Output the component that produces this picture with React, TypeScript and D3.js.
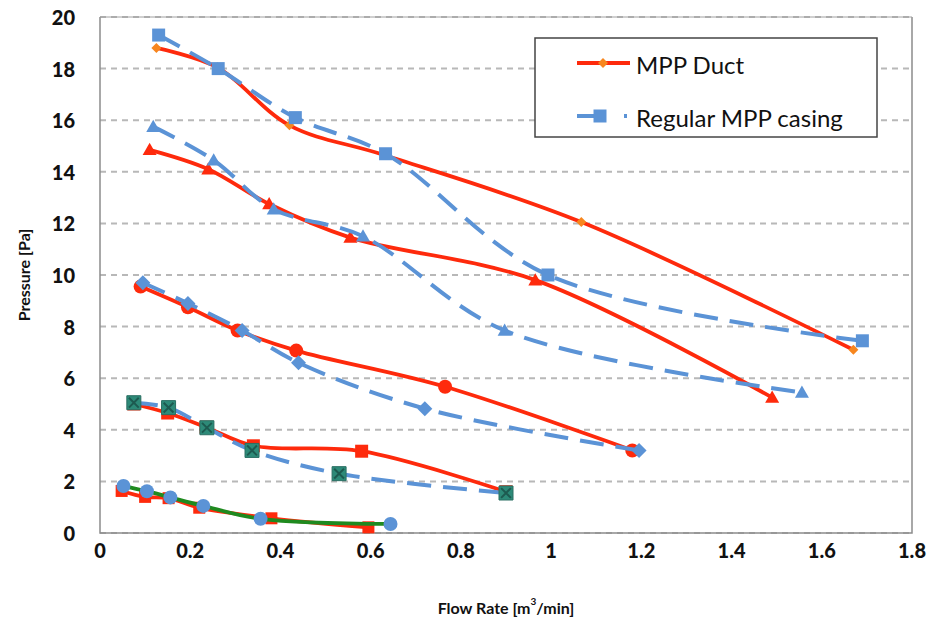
import React from "react";
import * as d3 from "d3";

// Flow rate [m³/min], pressure [Pa] pairs for each test condition
const ductA: [number, number][] = [[0.125, 18.8], [0.26, 18.05], [0.42, 15.8], [0.63, 14.65], [1.067, 12.05], [1.67, 7.1]];
const casingA: [number, number][] = [[0.13, 19.3], [0.262, 18.0], [0.433, 16.1], [0.633, 14.7], [0.993, 10.0], [1.69, 7.45]];

const ductB: [number, number][] = [[0.11, 14.85], [0.24, 14.1], [0.375, 12.75], [0.555, 11.45], [0.965, 9.8], [1.49, 5.25]];
const casingB: [number, number][] = [[0.118, 15.75], [0.252, 14.45], [0.385, 12.55], [0.583, 11.5], [0.897, 7.85], [1.556, 5.45]];

const ductC: [number, number][] = [[0.09, 9.55], [0.195, 8.75], [0.305, 7.85], [0.435, 7.07], [0.765, 5.67], [1.18, 3.2]];
const casingC: [number, number][] = [[0.095, 9.7], [0.195, 8.9], [0.315, 7.85], [0.44, 6.6], [0.72, 4.82], [1.195, 3.2]];

const ductD: [number, number][] = [[0.075, 5.0], [0.15, 4.65], [0.235, 4.1], [0.34, 3.38], [0.58, 3.17], [0.9, 1.6]];
const casingD: [number, number][] = [[0.075, 5.05], [0.152, 4.86], [0.237, 4.08], [0.337, 3.2], [0.53, 2.3], [0.9, 1.55]];

const ductE: [number, number][] = [[0.048, 1.63], [0.1, 1.4], [0.152, 1.35], [0.22, 0.98], [0.38, 0.57], [0.595, 0.22]];
const casingE: [number, number][] = [[0.052, 1.82], [0.104, 1.62], [0.156, 1.38], [0.229, 1.05], [0.356, 0.55], [0.644, 0.35]];

const xTicks = [0, 0.2, 0.4, 0.6, 0.8, 1, 1.2, 1.4, 1.6, 1.8];
const yTicks = [0, 2, 4, 6, 8, 10, 12, 14, 16, 18, 20];
const legendLabels = ["MPP Duct", "Regular MPP casing"];
const xTitle = "Flow Rate [m";
const yTitle = "Pressure [Pa]";

const W = 934;
const H = 622;
const plot = { left: 100, right: 912, top: 17, bottom: 533 };

const RED = "#fe2a0c";
const ORANGE = "#f7861e";
const BLUE = "#5b93d6";
const TEAL = "#2d8a78";
const GREEN = "#1f8a1f";
const DASH = "24,12";

type Marker = "diamond" | "square" | "triangle" | "circle" | "xbox";

interface Series {
  data: [number, number][];
  stroke: string;
  dash?: string;
  marker: Marker;
  fill: string;
  size: number;
}

const series: Series[] = [
  { data: ductA, stroke: RED, marker: "diamond", fill: ORANGE, size: 5 },
  { data: casingA, stroke: BLUE, dash: DASH, marker: "square", fill: BLUE, size: 6.5 },
  { data: ductB, stroke: RED, marker: "triangle", fill: RED, size: 7 },
  { data: casingB, stroke: BLUE, dash: DASH, marker: "triangle", fill: BLUE, size: 7 },
  { data: ductC, stroke: RED, marker: "circle", fill: RED, size: 7 },
  { data: casingC, stroke: BLUE, dash: DASH, marker: "diamond", fill: BLUE, size: 7.5 },
  { data: ductD, stroke: RED, marker: "square", fill: RED, size: 6.5 },
  { data: casingD, stroke: BLUE, dash: DASH, marker: "xbox", fill: TEAL, size: 7 },
  { data: ductE, stroke: RED, marker: "square", fill: RED, size: 6 },
  { data: casingE, stroke: GREEN, marker: "circle", fill: BLUE, size: 7 },
];

function markerPath(m: Marker, r: number): string {
  switch (m) {
    case "diamond":
      return `M0,${-r}L${r},0L0,${r}L${-r},0Z`;
    case "square":
    case "xbox":
      return `M${-r},${-r}H${r}V${r}H${-r}Z`;
    case "triangle":
      return `M0,${-r}L${r},${r * 0.75}L${-r},${r * 0.75}Z`;
    case "circle":
    default:
      return `M${r},0A${r},${r} 0 1,1 ${-r},0A${r},${r} 0 1,1 ${r},0Z`;
  }
}

function MarkerShape({ m, r, fill, x, y }: { m: Marker; r: number; fill: string; x: number; y: number }) {
  return (
    <g transform={`translate(${x},${y})`}>
      <path d={markerPath(m, r)} fill={fill} stroke={m === "xbox" ? "#2a6f63" : "none"} strokeWidth={1} />
      {m === "xbox" && (
        <path
          d={`M${-r * 0.7},${-r * 0.7}L${r * 0.7},${r * 0.7}M${r * 0.7},${-r * 0.7}L${-r * 0.7},${r * 0.7}`}
          stroke="#1d5a50"
          strokeWidth={2}
        />
      )}
    </g>
  );
}

export default function App() {
  const x = d3.scaleLinear().domain([0, 1.8]).range([plot.left, plot.right]);
  const y = d3.scaleLinear().domain([0, 20]).range([plot.bottom, plot.top]);
  const line = d3
    .line<[number, number]>()
    .x((d) => x(d[0]))
    .y((d) => y(d[1]))
    .curve(d3.curveCatmullRom.alpha(0.5));

  const font = "Lato, 'Open Sans', sans-serif";

  return (
    <svg width={W} height={H} style={{ position: "absolute", left: 0, top: 0, background: "#fff" }}>
      <rect width={W} height={H} fill="#fff" />
      {/* horizontal grid */}
      {yTicks.map((t) => (
        <line
          key={`g${t}`}
          x1={plot.left}
          x2={plot.right}
          y1={y(t)}
          y2={y(t)}
          stroke="#b8b8b8"
          strokeWidth={2}
          strokeDasharray="6,5"
        />
      ))}
      {/* plot frame */}
      <path
        d={`M${plot.left},${plot.top}V${plot.bottom}H${plot.right}V${plot.top}`}
        fill="none"
        stroke="#8c8c8c"
        strokeWidth={1.5}
      />
      <line x1={plot.left} x2={plot.right} y1={plot.top} y2={plot.top} stroke="#a0a0a0" strokeWidth={1} />

      {/* y tick labels */}
      {yTicks.map((t) => (
        <text
          key={`y${t}`}
          x={75}
          y={y(t)}
          textAnchor="end"
          dominantBaseline="central"
          fontFamily={font}
          fontWeight={900}
          fontSize={20}
          fill="#111"
        >
          {t}
        </text>
      ))}
      {/* x tick labels */}
      {xTicks.map((t) => (
        <text
          key={`x${t}`}
          x={x(t)}
          y={550}
          textAnchor="middle"
          dominantBaseline="central"
          fontFamily={font}
          fontWeight={900}
          fontSize={20}
          fill="#111"
        >
          {t}
        </text>
      ))}

      {/* axis titles */}
      <text
        x={0}
        y={0}
        transform={`translate(23,${(plot.top + plot.bottom) / 2}) rotate(-90)`}
        textAnchor="middle"
        dominantBaseline="central"
        fontFamily={font}
        fontWeight={700}
        fontSize={16}
        fill="#111"
      >
        {yTitle}
      </text>
      <text
        x={(plot.left + plot.right) / 2}
        y={607}
        textAnchor="middle"
        dominantBaseline="central"
        fontFamily={font}
        fontWeight={700}
        fontSize={16}
        fill="#111"
      >
        {xTitle}
        <tspan dy={-6} fontSize={10}>3</tspan>
        <tspan dy={6}>/min]</tspan>
      </text>

      {/* series */}
      {series.map((s, i) => (
        <g key={`s${i}`}>
          <path
            d={line(s.data) ?? ""}
            fill="none"
            stroke={s.stroke}
            strokeWidth={s.dash ? 4 : 3.8}
            strokeDasharray={s.dash}
            strokeLinecap={s.dash ? "butt" : "round"}
            strokeLinejoin="round"
          />
          {s.data.map((d, j) => (
            <MarkerShape key={j} m={s.marker} r={s.size} fill={s.fill} x={x(d[0])} y={y(d[1])} />
          ))}
        </g>
      ))}

      {/* legend */}
      <g>
        <rect x={535} y={38} width={342} height={99} fill="#fff" stroke="#444" strokeWidth={1.5} />
        <line x1={577} x2={630} y1={63} y2={63} stroke={RED} strokeWidth={4} />
        <MarkerShape m="diamond" r={5} fill={ORANGE} x={603} y={63} />
        <text x={636} y={64} dominantBaseline="central" fontFamily={font} fontSize={24} fill="#111">
          {legendLabels[0]}
        </text>
        <line x1={577} x2={630} y1={116} y2={116} stroke={BLUE} strokeWidth={4} strokeDasharray="24,23,3" />
        <MarkerShape m="square" r={6.5} fill={BLUE} x={600} y={116} />
        <text x={636} y={117} dominantBaseline="central" fontFamily={font} fontSize={24} fill="#111">
          {legendLabels[1]}
        </text>
      </g>
    </svg>
  );
}
